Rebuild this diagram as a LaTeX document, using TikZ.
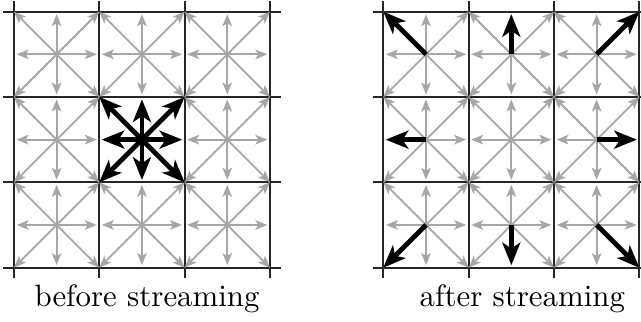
\documentclass[tikz,border=0pt]{standalone}
\usepackage{tikz}
\usetikzlibrary{arrows.meta,calc}

\begin{document}
\begin{tikzpicture}[
 gridline/.style={line width=0.6pt,black!85},
 lattice/.style={gray!70,line width=0.6pt,-{Stealth[length=4pt,width=3.2pt,inset=1pt]}},
 stream/.style={black,line width=1.6pt,-{Stealth[length=7.5pt,width=6pt,inset=2pt]}},
 caption/.style={anchor=base,font=\fontsize{10.3}{12}\selectfont}
]
\useasboundingbox (-0.164,-0.637) rectangle (7.35,3.137);
\clip (-0.164,-0.637) rectangle (7.35,3.137);
% two 3x3 lattices, left one at x=0, right one at x=4.33
\foreach \g/\ox in {L/0,R/4.33} {
 \foreach \k in {0,...,3} {
  \draw[gridline] (\ox+\k,-0.125) -- (\ox+\k,3.125);
  \draw[gridline] (\ox-0.125,\k) -- (\ox+3.125,\k);
 }
 \foreach \i in {0,1,2}
  \foreach \j in {0,1,2} {
   \coordinate (\g-\i-\j) at (\ox+\i+0.5,\j+0.5);
   \foreach \dx/\dy in {0.47/0,-0.47/0,0/0.47,0/-0.47,0.5/0.5,-0.5/0.5,0.5/-0.5,-0.5/-0.5}
    \draw[lattice] (\g-\i-\j) -- ++(\dx,\dy);
  }
}
% populations of the centre cell before streaming
\foreach \dx/\dy in {0.47/0,-0.47/0,0/0.47,0/-0.47,0.5/0.5,-0.5/0.5,0.5/-0.5,-0.5/-0.5}
 \draw[stream] (L-1-1) -- ++(\dx,\dy);
% after streaming: each population in its neighbour
\foreach \i/\j/\dx/\dy in {0/2/-0.5/0.5,1/2/0/0.47,2/2/0.5/0.5,0/1/-0.47/0,2/1/0.47/0,0/0/-0.5/-0.5,1/0/0/-0.47,2/0/0.5/-0.5}
 \draw[stream] (R-\i-\j) -- ++(\dx,\dy);
\node[caption] (before) at (1.56,-0.46) {before streaming};
\node[caption] (after) at (5.96,-0.46) {after streaming};
\end{tikzpicture}
\end{document}
